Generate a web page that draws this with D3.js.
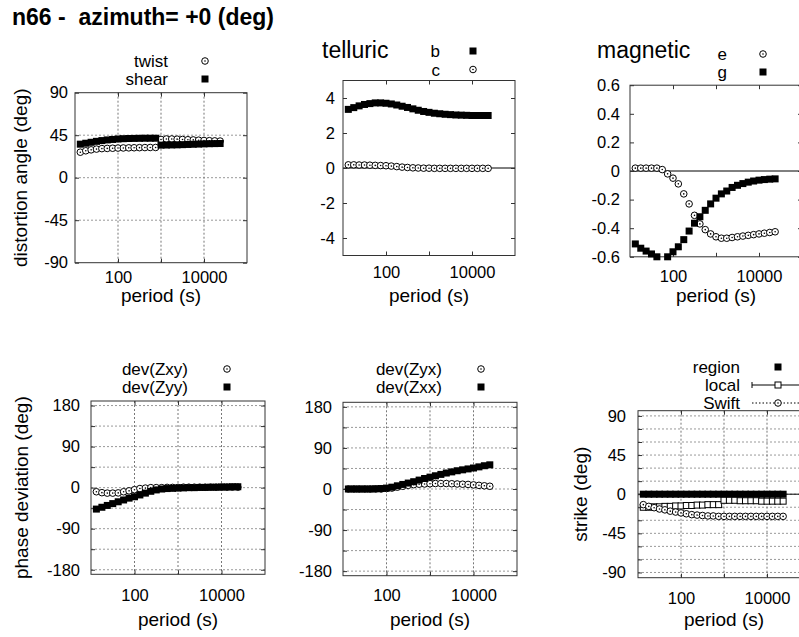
<!DOCTYPE html>
<html lang="en">
<head>
<meta charset="UTF-8">
<title>n66 distortion</title>
<script src="https://d3js.org/d3.v7.min.js"></script>
<style>
  body { margin: 0; background: #fff; }
  text { font-family: "Liberation Sans", Arial, sans-serif; fill: #000; white-space: pre; }
</style>
</head>
<body>
<div id="chart"></div>
<script>
// periods (s), 8 per decade
var periods = [13.3, 17.8, 23.7, 31.6, 42.2, 56.2, 75, 100, 133, 178, 237, 316, 422, 562, 750,
               1000, 1334, 1778, 2371, 3162, 4217, 5623, 7499, 10000, 13335, 17783, 23714];

var twist = [27, 28.5, 29.5, 30.3, 30.8, 31, 31.2, 31.4, 31.5, 31.6, 31.7, 31.8, 31.9, 32, 32,
             40.5, 41, 41, 40.8, 40.5, 40.2, 40, 39.7, 39.4, 39.2, 39, 38.8];
var shear = [35.5, 36.5, 37.5, 38.5, 39.3, 40, 40.5, 41, 41.3, 41.5, 41.6, 41.7, 41.8, 41.8, 41.8,
             34.5, 34.6, 34.7, 34.8, 35, 35.2, 35.4, 35.6, 35.8, 36, 36.1, 36.2];

var tellB = [3.35, 3.45, 3.55, 3.63, 3.68, 3.72, 3.72, 3.70, 3.66, 3.60, 3.53, 3.46, 3.38, 3.30,
             3.23, 3.18, 3.13, 3.10, 3.07, 3.05, 3.03, 3.02, 3.01, 3.00, 3.00, 3.00, 3.00];
var tellC = [0.18, 0.18, 0.17, 0.17, 0.16, 0.15, 0.14, 0.13, 0.11, 0.08, 0.05, 0.03, 0.01, 0,
             -0.01, -0.01, -0.02, -0.02, -0.02, -0.02, -0.02, -0.02, -0.02, -0.02, -0.02, -0.02, -0.02];

var magE = [0.02, 0.02, 0.02, 0.02, 0.02, 0.01, -0.02, -0.05, -0.09, -0.16, -0.23, -0.31, -0.37,
            -0.41, -0.44, -0.46, -0.47, -0.47, -0.465, -0.46, -0.455, -0.45, -0.445, -0.44,
            -0.435, -0.43, -0.425];
var magG = [-0.51, -0.54, -0.56, -0.58, -0.6, -0.62, -0.6, -0.565, -0.53, -0.48, -0.42, -0.365,
            -0.32, -0.275, -0.23, -0.19, -0.16, -0.14, -0.115, -0.1, -0.088, -0.078, -0.07,
            -0.064, -0.06, -0.057, -0.055];

var devZxy = [-9, -11, -12, -12, -11.5, -9, -7, -4.5, -2, -1, 0, 0, 0, 0.5, 0.5, 0.5, 1, 1, 1,
              1, 1, 1, 1, 1, 1, 1, 1];
var devZyy = [-47, -43, -39, -35, -31, -27, -23, -20, -16, -12, -8, -5, -3, -2, -1.5, -1, -0.5,
              0, 0, 0.5, 0.5, 1, 1, 1.5, 1.5, 2, 2];
var devZyx = [0, 0, 0, 0, 0, 0, 0, 1, 2, 4, 6, 8, 9.5, 10.5, 11, 11.5, 12, 12, 12, 11.5, 11,
              10.5, 10, 9, 8, 7, 6];
var devZxx = [0, 0, 0, 0, 0, 0.5, 1, 2, 4, 7, 10, 13, 16, 19.5, 23, 26, 29, 32, 35, 37.5, 40,
              42, 44, 46, 48.5, 51, 53];

var strikeRegion = [0, 0, 0, 0, 0, 0, 0, 0, 0, 0, 0, 0, 0, 0, 0, 0, 0, 0, 0, 0, 0, 0, 0, 0, 0, 0, 0];
var strikeLocal = [-15, -15, -14.5, -14.5, -14, -14, -13.5, -13.5, -13, -13, -12.5, -12.5, -12,
                   -12, -12, -7, -7, -7, -7.5, -7.5, -7.5, -7.5, -8, -8, -8, -8, -8];
var strikeLocalErr = [2, 2, 2, 2, 2, 2, 2, 2, 2, 2, 2, 2, 2, 2, 2, 3, 3, 3, 3, 3, 3, 3, 3, 3, 3, 3, 3];
var strikeSwift = [-12, -14, -15.5, -17, -18, -19.5, -20.5, -21.5, -22.5, -23.5, -24, -24.5, -25,
                   -25, -25.5, -25.5, -25.5, -25.5, -25.5, -25.5, -25.5, -25.5, -25.5, -25.5,
                   -25.5, -25.5, -25.5];

var xTickVals = [100, 1000, 10000];

var W = 799, H = 637;
var svg = d3.select("#chart").append("svg")
  .attr("width", W).attr("height", H)
  .style("display", "block");
svg.append("rect").attr("width", W).attr("height", H).attr("fill", "#fff");

svg.append("text")
  .attr("x", 12).attr("y", 25)
  .attr("xml:space", "preserve")
  .style("font-size", "23px").style("font-weight", "bold")
  .text("n66 -  azimuth= +0 (deg)");

function dots(g, x, y, vals) {
  var pts = vals.map(function (v, i) { return [periods[i], v]; })
    .filter(function (d) { return d[1] >= y.domain()[0] && d[1] <= y.domain()[1]; });
  var s = g.append("g").selectAll("g").data(pts).join("g")
    .attr("transform", function (d) { return "translate(" + x(d[0]) + "," + y(d[1]) + ")"; });
  s.append("circle").attr("r", 3.3).attr("fill", "#fff").attr("stroke", "#000").attr("stroke-width", 1);
  s.append("circle").attr("r", 0.8).attr("fill", "#000");
}

function squares(g, x, y, vals, open) {
  var pts = vals.map(function (v, i) { return [periods[i], v]; })
    .filter(function (d) { return d[1] >= y.domain()[0] && d[1] <= y.domain()[1]; });
  var sz = open ? 6 : 7;
  g.append("g").selectAll("rect").data(pts).join("rect")
    .attr("x", function (d) { return x(d[0]) - sz / 2; })
    .attr("y", function (d) { return y(d[1]) - sz / 2; })
    .attr("width", sz).attr("height", sz)
    .attr("fill", open ? "#fff" : "#000")
    .attr("stroke", open ? "#000" : "none");
}

function legendMark(g, type, mx, my) {
  var s = g.append("g").attr("transform", "translate(" + mx + "," + my + ")");
  if (type === "dot") {
    s.append("circle").attr("r", 3.3).attr("fill", "#fff").attr("stroke", "#000");
    s.append("circle").attr("r", 0.8).attr("fill", "#000");
  } else if (type === "square") {
    s.append("rect").attr("x", -3.5).attr("y", -3.5).attr("width", 7).attr("height", 7).attr("fill", "#000");
  } else if (type === "errline") {
    s.append("line").attr("x1", -26).attr("x2", 30).attr("stroke", "#000");
    s.append("line").attr("x1", -26).attr("x2", -26).attr("y1", -3).attr("y2", 3).attr("stroke", "#000");
    s.append("rect").attr("x", -3).attr("y", -3).attr("width", 6).attr("height", 6)
      .attr("fill", "#fff").attr("stroke", "#000");
  } else if (type === "dotline") {
    s.append("line").attr("x1", -26).attr("x2", 30).attr("stroke", "#000").attr("stroke-dasharray", "1.5,2");
    s.append("circle").attr("r", 3.3).attr("fill", "#fff").attr("stroke", "#000");
    s.append("circle").attr("r", 0.8).attr("fill", "#000");
  }
}

function panel(p) {
  var x = d3.scaleLog().domain([10, 1e5]).range([p.x0, p.x1]);
  var y = d3.scaleLinear().domain(p.yDomain).range([p.y1, p.y0]);
  var g = svg.append("g");
  var w = p.x1 - p.x0, h = p.y1 - p.y0;

  if (p.grid) {
    g.append("g").selectAll("line").data(p.hGrid).join("line")
      .attr("x1", p.x0).attr("x2", p.x1)
      .attr("y1", function (d) { return y(d); }).attr("y2", function (d) { return y(d); })
      .attr("stroke", "#999").attr("stroke-dasharray", "2,2");
    g.append("g").selectAll("line").data(xTickVals).join("line")
      .attr("y1", p.y0).attr("y2", p.y1)
      .attr("x1", function (d) { return x(d); }).attr("x2", function (d) { return x(d); })
      .attr("stroke", "#777").attr("stroke-dasharray", "2,2");
  }
  if (p.zero) {
    g.append("line").attr("x1", p.x0).attr("x2", p.x1)
      .attr("y1", y(0)).attr("y2", y(0)).attr("stroke", "#000");
  }

  var fmt = function (d) { return p.yLabels.indexOf(d) >= 0 ? p.yFmt(d) : ""; };
  var xfmt = function (d) { return d === 1000 ? "" : d3.format("d")(d); };

  g.append("g").attr("transform", "translate(0," + p.y1 + ")")
    .call(d3.axisBottom(x).tickValues(xTickVals).tickFormat(xfmt).tickSizeInner(-4).tickSizeOuter(0).tickPadding(p.xPad));
  g.append("g").attr("transform", "translate(0," + p.y0 + ")")
    .call(d3.axisTop(x).tickValues(xTickVals).tickFormat("").tickSizeInner(-4).tickSizeOuter(0));
  g.append("g").attr("transform", "translate(" + p.x0 + ",0)")
    .call(d3.axisLeft(y).tickValues(p.yTicks).tickFormat(fmt).tickSizeInner(-4).tickSizeOuter(0).tickPadding(p.yPad));
  g.append("g").attr("transform", "translate(" + p.x1 + ",0)")
    .call(d3.axisRight(y).tickValues(p.yTicks).tickFormat("").tickSizeInner(-4).tickSizeOuter(0));
  g.selectAll(".domain").remove();
  g.selectAll(".tick line").attr("stroke", "#333");
  g.selectAll(".tick text").style("font-size", "16.5px").attr("fill", "#000")
    .style("font-family", '"Liberation Sans", Arial, sans-serif');

  g.append("rect").attr("x", p.x0).attr("y", p.y0).attr("width", w).attr("height", h)
    .attr("fill", "none").attr("stroke", "#333");

  g.append("text").attr("x", (p.x0 + p.x1) / 2).attr("y", p.xLabelY)
    .attr("text-anchor", "middle").style("font-size", "19px").text("period (s)");
  if (p.yLabel) {
    g.append("text")
      .attr("transform", "translate(" + p.yLabelX + "," + ((p.y0 + p.y1) / 2) + ") rotate(-90)")
      .attr("text-anchor", "middle").attr("dy", "0.35em")
      .style("font-size", "19px").text(p.yLabel);
  }
  if (p.sub) {
    g.append("text").attr("x", p.sub[1]).attr("y", p.sub[2])
      .style("font-size", "23px").text(p.sub[0]);
  }

  p.series.forEach(function (s, i) {
    if (s.type === "dot") dots(g, x, y, s.values);
    else if (s.type === "square") squares(g, x, y, s.values, false);
    else if (s.type === "errline") {
      var pts = s.values.map(function (v, j) { return [periods[j], v, s.err[j]]; });
      g.append("path").datum(pts)
        .attr("d", d3.line().x(function (d) { return x(d[0]); }).y(function (d) { return y(d[1]); }))
        .attr("fill", "none").attr("stroke", "#000");
      g.append("g").selectAll("line").data(pts).join("line")
        .attr("x1", function (d) { return x(d[0]); }).attr("x2", function (d) { return x(d[0]); })
        .attr("y1", function (d) { return y(d[1] - d[2]); }).attr("y2", function (d) { return y(d[1] + d[2]); })
        .attr("stroke", "#000");
      squares(g, x, y, s.values, true);
    } else if (s.type === "dotline") {
      g.append("path").datum(s.values.map(function (v, j) { return [periods[j], v]; }))
        .attr("d", d3.line().x(function (d) { return x(d[0]); }).y(function (d) { return y(d[1]); }))
        .attr("fill", "none").attr("stroke", "#000").attr("stroke-dasharray", "1.5,2");
      dots(g, x, y, s.values);
    }
    var ly = p.leg[2] + i * p.leg[3];
    g.append("text").attr("x", p.leg[0]).attr("y", ly)
      .attr("text-anchor", "end").style("font-size", "17px").text(s.name);
    legendMark(g, s.type, p.leg[1], ly - 6);
  });
}

var deg = function (d) { return String(d); };
var dec = function (d) { return d === 0 ? "0" : d.toFixed(1); };

panel({ x0: 75, x1: 247, y0: 92.7, y1: 262.7, yDomain: [-90, 90],
  yTicks: [-90, -45, 0, 45, 90], yLabels: [-90, -45, 0, 45, 90], yFmt: deg,
  grid: true, hGrid: [-45, 0, 45], zero: false, xPad: 9, yPad: 7, xLabelY: 302,
  yLabel: "distortion angle (deg)", yLabelX: 20, leg: [168, 205, 67, 18],
  series: [{ name: "twist", type: "dot", values: twist }, { name: "shear", type: "square", values: shear }] });

panel({ x0: 343, x1: 515, y0: 80.5, y1: 255.5, yDomain: [-5, 5],
  yTicks: [-4, -2, 0, 2, 4], yLabels: [-4, -2, 0, 2, 4], yFmt: deg,
  grid: false, zero: true, xPad: 11, yPad: 8, xLabelY: 302,
  sub: ["telluric", 322, 58], leg: [440, 473, 57, 18.5],
  series: [{ name: "b", type: "square", values: tellB }, { name: "c", type: "dot", values: tellC }] });

panel({ x0: 630, x1: 802, y0: 85.2, y1: 256.8, yDomain: [-0.6, 0.6],
  yTicks: [-0.6, -0.4, -0.2, 0, 0.2, 0.4, 0.6], yLabels: [-0.6, -0.4, -0.2, 0, 0.2, 0.4, 0.6], yFmt: dec,
  grid: false, zero: true, xPad: 13, yPad: 10, xLabelY: 302,
  sub: ["magnetic", 597, 58], leg: [727, 763, 60, 18],
  series: [{ name: "e", type: "dot", values: magE }, { name: "g", type: "square", values: magG }] });

var phaseTicks = [-180, -135, -90, -45, 0, 45, 90, 135, 180];
panel({ x0: 91, x1: 265, y0: 401, y1: 574.3, yDomain: [-190, 190],
  yTicks: phaseTicks, yLabels: [-180, -90, 0, 90, 180], yFmt: deg,
  grid: true, hGrid: phaseTicks, zero: false, xPad: 15, yPad: 11, xLabelY: 626,
  yLabel: "phase deviation (deg)", yLabelX: 21, leg: [188, 227, 375, 18],
  series: [{ name: "dev(Zxy)", type: "dot", values: devZxy }, { name: "dev(Zyy)", type: "square", values: devZyy }] });

panel({ x0: 343, x1: 517, y0: 402.3, y1: 575.7, yDomain: [-190, 190],
  yTicks: phaseTicks, yLabels: [-180, -90, 0, 90, 180], yFmt: deg,
  grid: true, hGrid: phaseTicks, zero: false, xPad: 14, yPad: 11, xLabelY: 626,
  leg: [442, 481, 375, 18],
  series: [{ name: "dev(Zyx)", type: "dot", values: devZyx }, { name: "dev(Zxx)", type: "square", values: devZxx }] });

var strikeTicks = [-90, -75, -60, -45, -30, -15, 0, 15, 30, 45, 60, 75, 90];
panel({ x0: 638, x1: 810, y0: 410.7, y1: 577.7, yDomain: [-96, 96],
  yTicks: strikeTicks, yLabels: [-90, -45, 0, 45, 90], yFmt: deg,
  grid: true, hGrid: strikeTicks, zero: true, xPad: 15, yPad: 12, xLabelY: 626,
  yLabel: "strike (deg)", yLabelX: 580, leg: [740, 778, 373, 18],
  series: [{ name: "region", type: "square", values: strikeRegion },
           { name: "local", type: "errline", values: strikeLocal, err: strikeLocalErr },
           { name: "Swift", type: "dotline", values: strikeSwift }] });
</script>
</body>
</html>
